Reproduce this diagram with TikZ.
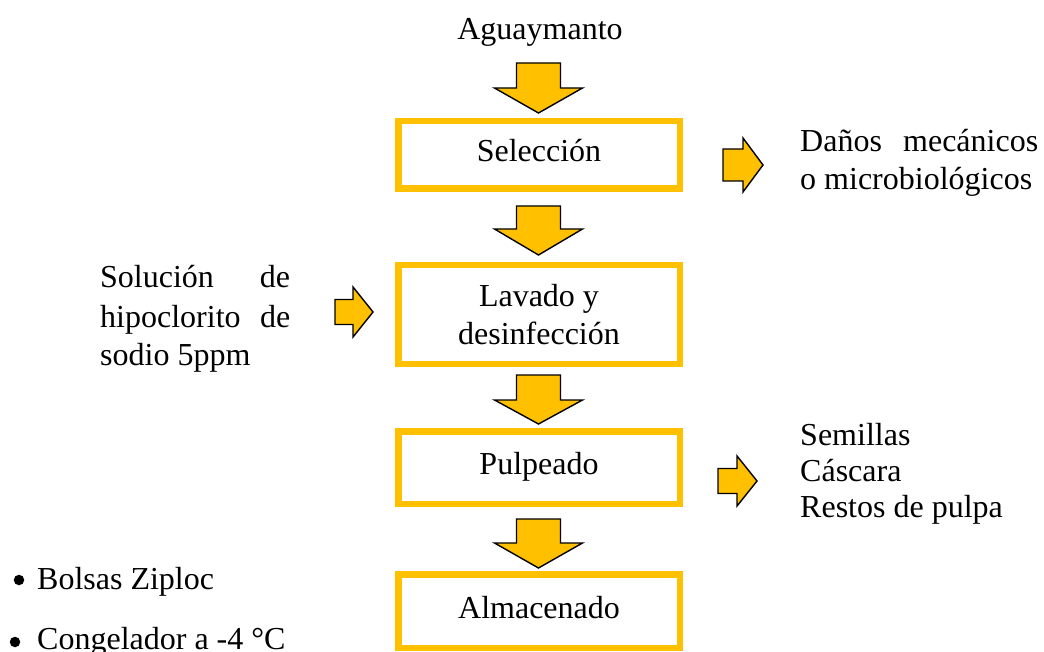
\documentclass[tikz,border=0pt]{standalone}
\usepackage{fontspec}
\setmainfont{Liberation Serif}
\definecolor{gold}{HTML}{FFC000}
\tikzset{
  txt/.style={font=\fontsize{32}{38}\selectfont, inner sep=0pt},
  procbox/.style={draw=gold, line width=6.5pt, minimum width=281.5pt, txt, text height=20pt, text depth=6pt},
  blockarrow/.style={fill=gold, draw=black, line width=1.4pt, line join=miter},
  bulletdot/.style={circle, fill=black, inner sep=0pt, minimum size=10.5pt}
}
% down block arrow: x centre, top, head start, tip
\newcommand{\DArrow}[4]{%
  \draw[blockarrow] (#1-22,#2) -- (#1+22,#2) -- (#1+22,#3) -- (#1+44,#3) -- (#1,#4) -- (#1-44,#3) -- (#1-22,#3) -- cycle;}
% right block arrow: x start, head start, tip, y centre, shaft half, head half
\newcommand{\RArrow}[6]{%
  \draw[blockarrow] (#1,#4-#5) -- (#2,#4-#5) -- (#2,#4-#6) -- (#3,#4) -- (#2,#4+#6) -- (#2,#4+#5) -- (#1,#4+#5) -- cycle;}
\begin{document}
\begin{tikzpicture}[x=1pt,y=-1pt]
\useasboundingbox (0,0) rectangle (1044,652);

% title
\node[txt, anchor=base] (ag) at (540,40) {Aguaymanto};

% process boxes
\node[procbox, minimum height=67.5pt] (sel) at (539,155) {Selección};
\node[draw=gold, line width=6.5pt, minimum width=281.5pt, minimum height=98.5pt, txt, align=center] (lav) at (539,314.5) {Lavado y\\desinfección};
\node[procbox, minimum height=72.5pt] (pul) at (539,467.5) {Pulpeado};
\node[procbox, minimum height=73.5pt] (alm) at (539,611) {Almacenado};

% down arrows
\DArrow{538.5}{63}{88}{113}
\DArrow{538.5}{206}{229}{255}
\DArrow{538.5}{375}{400}{424}
\DArrow{538.5}{519}{543}{568}

% side arrows
\RArrow{723}{743}{763}{165}{16}{27}
\RArrow{335}{353}{373}{312}{12.5}{25}
\RArrow{718}{737}{757}{481}{12.5}{25}

% right texts
\node[txt, anchor=base west] (d1) at (800,152) {\makebox[238pt][s]{Daños mecánicos}};
\node[txt, anchor=base west] (d2) at (800,190) {o microbiológicos};

\node[txt, anchor=base west] (s1) at (100,288) {\makebox[190pt][s]{Solución de}};
\node[txt, anchor=base west] (s2) at (100,327) {\makebox[190pt][s]{hipoclorito de}};
\node[txt, anchor=base west] (s3) at (100,365) {sodio 5ppm};

\node[txt, anchor=base west] (r1) at (800,445) {Semillas};
\node[txt, anchor=base west] (r2) at (800,481) {Cáscara};
\node[txt, anchor=base west] (r3) at (800,517) {Restos de pulpa};

% bullets
\node[bulletdot] (b1) at (19,580) {};
\node[txt, anchor=base west] (t1) at (37,589) {Bolsas Ziploc};
\node[bulletdot] (b2) at (15,642) {};
\node[txt, anchor=base west] (t2) at (37,649) {Congelador a -4 °C};
\end{tikzpicture}
\end{document}
